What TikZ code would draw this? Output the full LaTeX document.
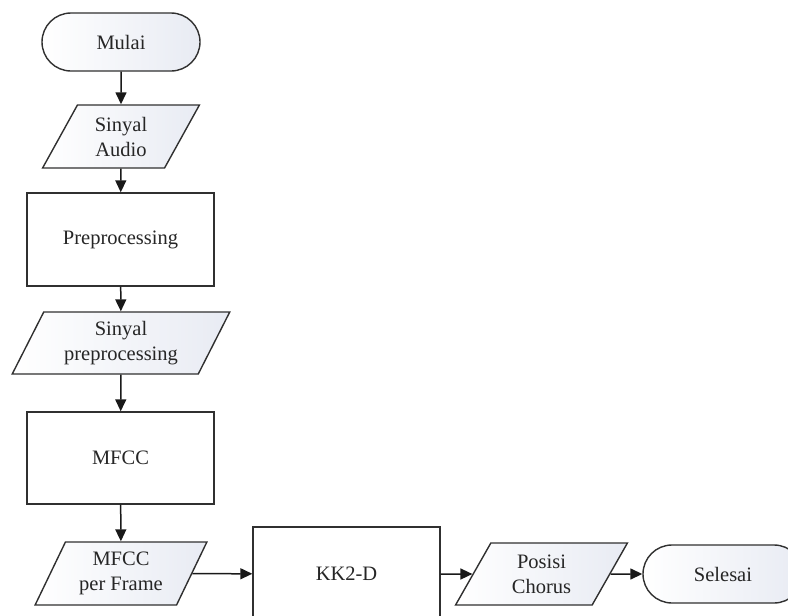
\documentclass[tikz,border=0pt]{standalone}
\usepackage{fontspec}
\setmainfont{Liberation Serif}
\usetikzlibrary{shapes.geometric,shapes.misc,arrows.meta}
\definecolor{linec}{HTML}{303030}
\definecolor{fillc}{HTML}{E8EBF3}
\tikzset{
  base/.style={draw=linec, line width=1.4pt, align=center, inner sep=0pt,
    font=\fontsize{20.5}{25}\selectfont, text=black!85},
  term/.style={base, rounded rectangle, left color=white, right color=fillc, minimum height=58pt},
  io/.style={base, trapezium, trapezium left angle=62, trapezium right angle=118,
    trapezium stretches=true, left color=white, right color=fillc},
  proc/.style={base, rectangle, fill=white, minimum width=187pt},
  arr/.style={draw=black!90, line width=1.5pt, -{Triangle[length=12pt,width=11pt]}}
}
\begin{document}
\begin{tikzpicture}[x=1pt,y=-1pt]
\useasboundingbox (0,0) rectangle (788,616);
\clip (0,0) rectangle (788,616);
\node[term, minimum width=158pt] (mulai) at (121,42) {Mulai};
\node[io, minimum width=157pt, minimum height=63pt] (sa) at (121,136.5) {Sinyal\\Audio};
\node[proc, minimum height=93pt] (pre) at (120.5,239.5) {Preprocessing};
\node[io, minimum width=218pt, minimum height=62pt] (sp) at (121,343) {Sinyal\\preprocessing};
\node[proc, minimum height=92pt] (mfcc) at (120.5,458) {MFCC};
\node[io, minimum width=172pt, minimum height=63pt] (mpf) at (121,573.5) {MFCC\\per Frame};
\node[proc, minimum height=94pt] (kk) at (346.5,574) {KK2-D};
\node[io, minimum width=173pt, minimum height=62pt] (pc) at (541.5,574) {Posisi\\Chorus};
\node[term, minimum width=160pt] (sel) at (723,574) {Selesai};
\draw[arr] (mulai) -- (sa);
\draw[arr] (sa) -- (pre);
\draw[arr] (pre) -- (sp);
\draw[arr] (sp) -- (mfcc);
\draw[arr] (mfcc) -- (mpf);
\draw[arr] (mpf) -- (kk);
\draw[arr] (kk) -- (pc);
\draw[arr] (pc) -- (sel);
\end{tikzpicture}
\end{document}
